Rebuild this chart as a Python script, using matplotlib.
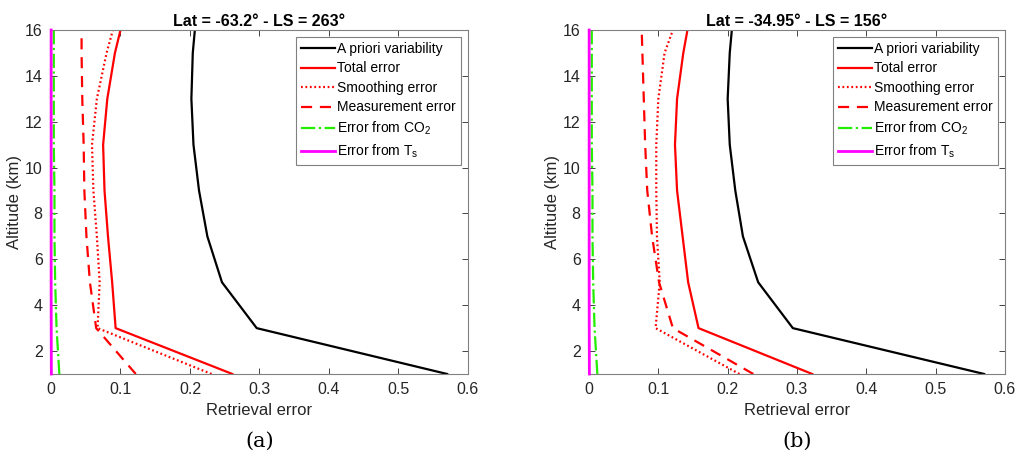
import matplotlib
matplotlib.use("Agg")
import matplotlib.pyplot as plt

plt.rcParams['font.family'] = ['Liberation Sans', 'DejaVu Sans']
plt.rcParams['mathtext.fontset'] = 'custom'
plt.rcParams['mathtext.rm'] = 'Liberation Sans'
plt.rcParams['mathtext.it'] = 'Liberation Sans'

# altitudes of the retrieval grid (km)
alt = [1, 3, 5, 7, 9, 11, 13, 15, 16]

# panel (a): Lat = -63.2, LS = 263
a_apriori = [0.570, 0.296, 0.246, 0.225, 0.213, 0.205, 0.202, 0.204, 0.207]
a_total = [0.261, 0.093, 0.088, 0.082, 0.077, 0.075, 0.081, 0.092, 0.100]
a_smooth = [0.231, 0.067, 0.070, 0.066, 0.061, 0.059, 0.066, 0.080, 0.089]
a_meas = [0.122, 0.065, 0.056, 0.051, 0.048, 0.047, 0.045, 0.044, 0.044]
a_co2 = [0.012, 0.008, 0.006, 0.005, 0.005, 0.004, 0.004, 0.004, 0.004]
a_ts = [0.0005, 0.0003, 0.0002, 0.0002, 0.0002, 0.0002, 0.0002, 0.0002, 0.0002]

# panel (b): Lat = -34.95, LS = 156
b_apriori = [0.570, 0.294, 0.244, 0.222, 0.211, 0.203, 0.200, 0.203, 0.206]
b_total = [0.322, 0.158, 0.143, 0.135, 0.127, 0.124, 0.127, 0.136, 0.142]
b_smooth = [0.217, 0.096, 0.102, 0.098, 0.097, 0.097, 0.100, 0.109, 0.121]
b_meas = [0.237, 0.121, 0.101, 0.091, 0.084, 0.081, 0.079, 0.077, 0.076]
b_co2 = [0.012, 0.008, 0.006, 0.005, 0.005, 0.004, 0.004, 0.004, 0.004]
b_ts = [0.0005, 0.0003, 0.0002, 0.0002, 0.0002, 0.0002, 0.0002, 0.0002, 0.0002]

titles = ["Lat = -63.2° - LS = 263°", "Lat = -34.95° - LS = 156°"]
captions = ["(a)", "(b)"]
labels = ["A priori variability", "Total error", "Smoothing error",
          "Measurement error", "Error from CO$_\\mathrm{2}$", "Error from T$_\\mathrm{s}$"]

fig = plt.figure(figsize=(10.18, 4.59), dpi=100)
ax1 = fig.add_axes([0.0501, 0.1852, 0.4096, 0.7494])
ax2 = fig.add_axes([0.5786, 0.1852, 0.4086, 0.7494])

panels = [
    (ax1, a_apriori, a_total, a_smooth, a_meas, a_co2, a_ts),
    (ax2, b_apriori, b_total, b_smooth, b_meas, b_co2, b_ts),
]

grey = "#262626"
for i, (ax, apr, tot, smo, mea, co2, ts) in enumerate(panels):
    ax.plot(apr, alt, color="black", lw=1.6, label=labels[0])
    ax.plot(tot, alt, color="red", lw=1.6, label=labels[1])
    ax.plot(smo, alt, color="red", lw=1.6, linestyle=(0, (0.8, 1.2)), label=labels[2])
    ax.plot(mea, alt, color="red", lw=1.6, linestyle=(0, (5, 3.5)), label=labels[3])
    ax.plot(co2, alt, color="#22ee00", lw=1.6, linestyle="-.", label=labels[4])
    ax.plot(ts, alt, color="magenta", lw=2.0, label=labels[5], zorder=5, clip_on=False)

    ax.set_xlim(0, 0.6)
    ax.set_ylim(1, 16)
    ax.set_xticks([0, 0.1, 0.2, 0.3, 0.4, 0.5, 0.6])
    ax.set_xticklabels(["0", "0.1", "0.2", "0.3", "0.4", "0.5", "0.6"])
    ax.set_yticks(range(2, 17, 2))
    ax.tick_params(direction="in", top=True, right=True, labelsize=11.5,
                   colors=grey, length=4, width=0.6, pad=6)
    for s in ax.spines.values():
        s.set_color("#808080")
        s.set_linewidth(0.8)
    ax.set_xlabel("Retrieval error", fontsize=12, color=grey, labelpad=4)
    ax.set_ylabel("Altitude (km)", fontsize=12, color=grey, labelpad=2)
    ax.set_title(titles[i], fontsize=11.5, fontweight="bold", pad=3)

    leg = ax.legend(loc="upper right", fontsize=10, handlelength=2.5,
                    handletextpad=0.15, labelspacing=0.4, borderpad=0.35,
                    fancybox=False, framealpha=1, borderaxespad=0.5)
    leg.get_frame().set_edgecolor("#808080")
    leg.get_frame().set_linewidth(0.8)

    ax.text(0.5, -0.195, captions[i], transform=ax.transAxes, ha="center",
            va="center", fontsize=15, family="DejaVu Serif")

fig.savefig("out.png", dpi=100)
